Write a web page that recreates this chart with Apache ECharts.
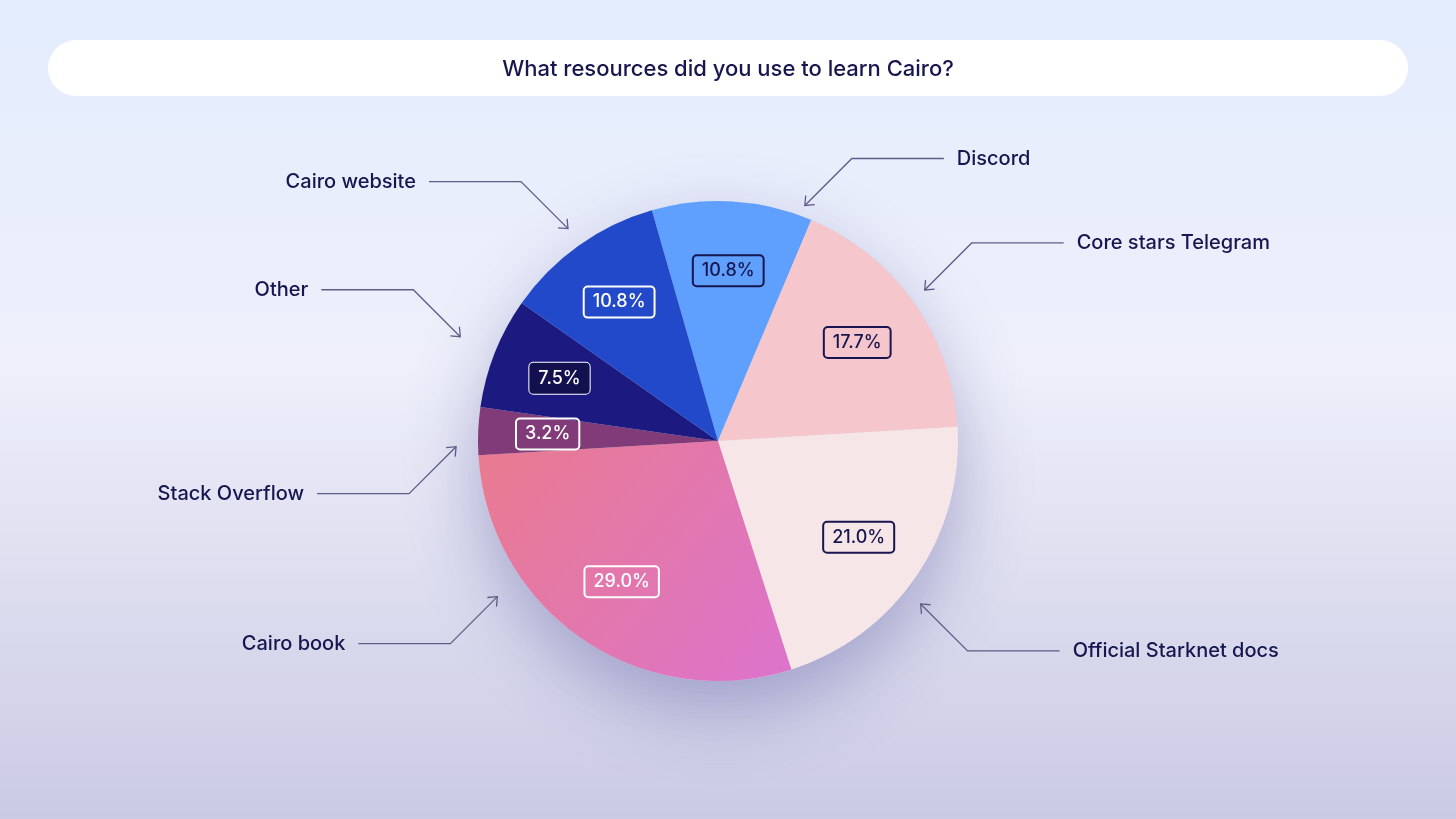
<!DOCTYPE html>
<html>
<head>
<meta charset="utf-8">
<title>What resources did you use to learn Cairo?</title>
<script src="https://cdn.jsdelivr.net/npm/echarts@6/dist/echarts.min.js"></script>
<style>
  html, body { margin: 0; padding: 0; }
  #chart { width: 1456px; height: 819px; }
</style>
</head>
<body>
<div id="chart"></div>
<script>
// data
const categories = ['Discord', 'Core stars Telegram', 'Official Starknet docs', 'Cairo book', 'Stack Overflow', 'Other', 'Cairo website'];
const shares = [10.8, 17.7, 21.0, 29.0, 3.2, 7.5, 10.8];
const chartTitle = 'What resources did you use to learn Cairo?';

// look
const sliceColors = ['#5f9ffd', '#f5c6cc', '#f7e6e7', null, '#803b78', '#1c1a80', '#2249c9'];
const darkSlice = [false, false, false, true, true, true, true];
const NAVY = '#17164f';
const LINE = '#5e5d88';
const FONT = 'Inter, "Noto Sans", sans-serif';

// layout
const CX = 718, CY = 441, R = 240, START = 106;
const DIAG = 47, RUN = 92;
const tipShift = [-16.8, 0.9, -4.4, -20.4, 3.6, -0.4, -0.2]; // degrees off the slice mid-angle
const tipDist = [251, 256, 260, 270, 262, 278, 260];       // arrow tip distance from centre

const chart = echarts.init(document.getElementById('chart'));

const bookGrad = new echarts.graphic.LinearGradient(0, 0, 1, 1, [
  { offset: 0, color: '#e97b8e' },
  { offset: 1, color: '#dc73cc' }
]);

const total = shares.reduce((a, b) => a + b, 0);

// callouts built from each slice's angle
const callouts = [];
let acc = 0;
shares.forEach((v, i) => {
  const mid = START - (acc + v / 2) / total * 360 + tipShift[i];
  acc += v;
  const rad = mid * Math.PI / 180;
  const tx = CX + tipDist[i] * Math.cos(rad);
  const ty = CY - tipDist[i] * Math.sin(rad);
  const sx = Math.cos(rad) >= 0 ? 1 : -1;
  const sy = Math.sin(rad) >= 0 ? -1 : 1;
  const ex = tx + sx * DIAG, ey = ty + sy * DIAG;
  const hx = ex + sx * RUN;
  // arrow head
  const ux = -sx / Math.SQRT2, uy = -sy / Math.SQRT2;
  const rot = (x, y, a) => [x * Math.cos(a) - y * Math.sin(a), x * Math.sin(a) + y * Math.cos(a)];
  const a1 = rot(ux, uy, 0.7), a2 = rot(ux, uy, -0.7);
  callouts.push({
    type: 'polyline', z: 10, silent: true,
    shape: { points: [[tx, ty], [ex, ey], [hx, ey]] },
    style: { stroke: LINE, lineWidth: 1.3, fill: null }
  });
  callouts.push({
    type: 'polyline', z: 10, silent: true,
    shape: { points: [[tx - 10 * a1[0], ty - 10 * a1[1]], [tx, ty], [tx - 10 * a2[0], ty - 10 * a2[1]]] },
    style: { stroke: LINE, lineWidth: 1.3, fill: null }
  });
  callouts.push({
    type: 'text', z: 10, silent: true,
    x: hx + sx * 13, y: ey,
    style: {
      text: categories[i], fill: NAVY, font: '500 20px ' + FONT,
      textAlign: sx > 0 ? 'left' : 'right', textVerticalAlign: 'middle'
    }
  });
});

const option = {
  animation: false,
  backgroundColor: new echarts.graphic.LinearGradient(0, 0, 0, 1, [
    { offset: 0, color: '#e3edfd' },
    { offset: 0.45, color: '#eeeffa' },
    { offset: 1, color: '#cbcae4' }
  ]),
  graphic: [
    {
      type: 'rect', z: 5, silent: true,
      shape: { x: 48, y: 40, width: 1360, height: 56, r: 28 },
      style: { fill: '#ffffff' }
    },
    {
      type: 'text', z: 6, silent: true,
      x: 728, y: 69,
      style: { text: chartTitle, fill: NAVY, font: '500 22px ' + FONT, textAlign: 'center', textVerticalAlign: 'middle' }
    }
  ].concat(callouts),
  series: [
    {
      // soft drop shadow under the pie
      type: 'pie', silent: true, z: 1,
      center: [CX, CY], radius: R,
      label: { show: false }, labelLine: { show: false },
      itemStyle: {
        color: '#d8d8ee',
        shadowBlur: 70, shadowOffsetY: 28, shadowColor: 'rgba(60, 60, 140, 0.35)'
      },
      data: [{ value: 1 }]
    },
    {
      type: 'pie', silent: true, z: 2,
      center: [CX, CY], radius: R,
      startAngle: START, clockwise: true,
      avoidLabelOverlap: false,
      label: { show: false }, labelLine: { show: false },
      data: categories.map((c, i) => ({
        name: c, value: shares[i],
        itemStyle: { color: sliceColors[i] || bookGrad }
      }))
    },
    {
      // percentage badges
      type: 'pie', silent: true, z: 3,
      center: [CX, CY], radius: [95, R],
      startAngle: START, clockwise: true,
      avoidLabelOverlap: false,
      labelLine: { show: false },
      data: categories.map((c, i) => ({
        name: c, value: shares[i],
        itemStyle: { color: 'transparent' },
        label: {
          show: true, position: 'inside',
          formatter: p => p.value.toFixed(1) + '%',
          color: darkSlice[i] ? '#ffffff' : NAVY,
          fontFamily: FONT, fontSize: 18, fontWeight: 500,
          borderColor: darkSlice[i] ? '#ffffff' : NAVY,
          borderWidth: 1, borderRadius: 4,
          padding: [7, 9, 6, 9],
          backgroundColor: c === 'Other' ? '#13104f' : 'transparent'
        }
      }))
    }
  ]
};

chart.setOption(option);
</script>
</body>
</html>
